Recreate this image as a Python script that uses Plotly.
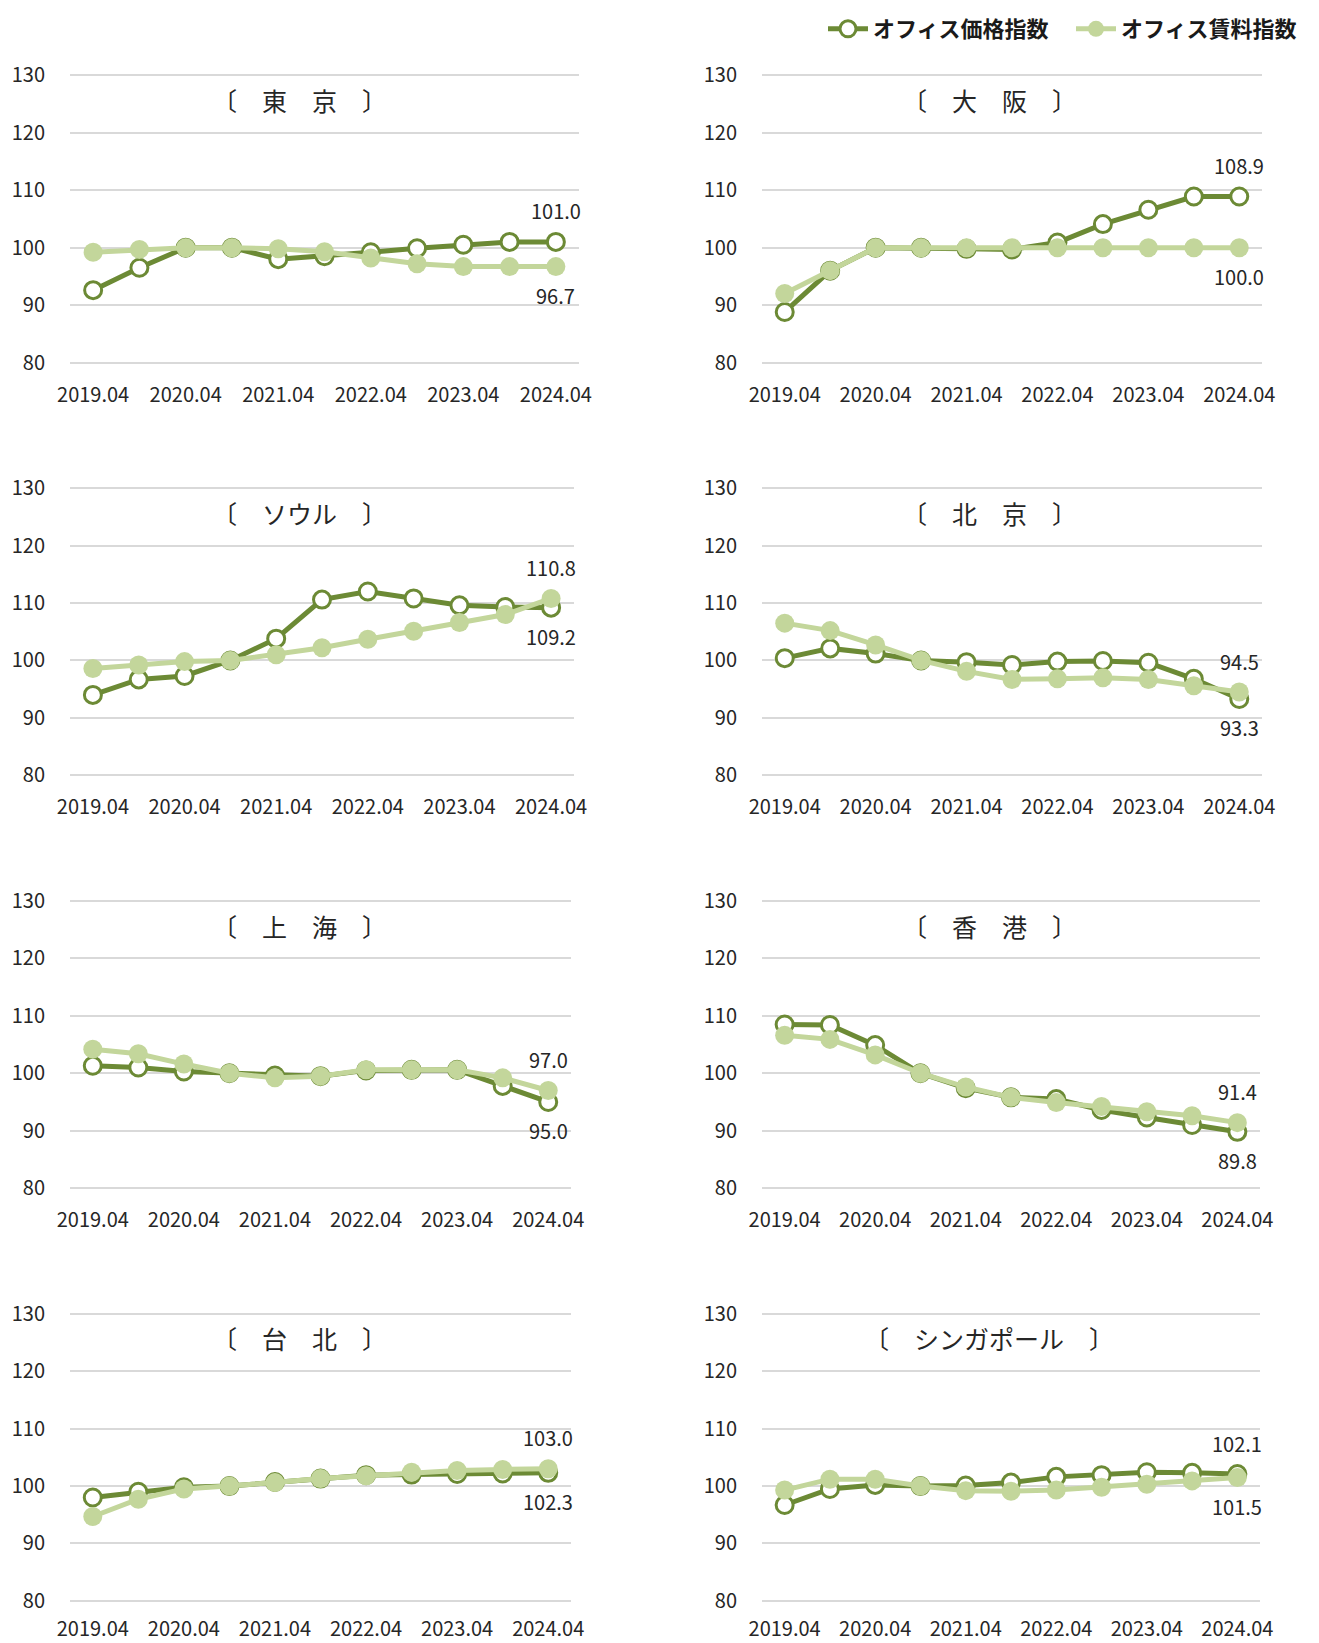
import plotly.graph_objects as go

# half-year periods, only April ones get a tick label
periods = ["2019.04", "2019.10", "2020.04", "2020.10", "2021.04", "2021.10",
           "2022.04", "2022.10", "2023.04", "2023.10", "2024.04"]
tick_periods = ["2019.04", "2020.04", "2021.04", "2022.04", "2023.04", "2024.04"]

cities = ["東　京", "大　阪", "ソウル", "北　京", "上　海", "香　港", "台　北", "シンガポール"]

# オフィス価格指数
price_tokyo = [92.6, 96.5, 100.0, 100.0, 98.0, 98.5, 99.2, 99.9, 100.5, 101.0, 101.0]
price_osaka = [88.8, 96.0, 100.0, 100.0, 99.8, 99.7, 100.9, 104.1, 106.6, 108.9, 108.9]
price_seoul = [94.0, 96.7, 97.3, 100.0, 103.8, 110.6, 112.0, 110.8, 109.6, 109.3, 109.2]
price_beijing = [100.4, 102.1, 101.2, 100.0, 99.7, 99.2, 99.8, 99.9, 99.6, 96.8, 93.3]
price_shanghai = [101.3, 101.0, 100.3, 100.0, 99.6, 99.5, 100.5, 100.6, 100.6, 97.8, 95.0]
price_hongkong = [108.5, 108.4, 104.9, 100.0, 97.4, 95.8, 95.5, 93.6, 92.3, 91.0, 89.8]
price_taipei = [98.0, 99.0, 99.8, 100.0, 100.7, 101.3, 101.9, 102.0, 102.1, 102.2, 102.3]
price_singapore = [96.7, 99.5, 100.2, 100.0, 100.1, 100.6, 101.6, 101.9, 102.4, 102.3, 102.1]

# オフィス賃料指数
rent_tokyo = [99.2, 99.7, 100.0, 100.0, 99.8, 99.3, 98.2, 97.2, 96.7, 96.7, 96.7]
rent_osaka = [92.0, 96.0, 100.0, 100.0, 100.0, 100.0, 100.0, 100.0, 100.0, 100.0, 100.0]
rent_seoul = [98.6, 99.2, 99.8, 100.0, 101.0, 102.2, 103.7, 105.1, 106.6, 108.0, 110.8]
rent_beijing = [106.5, 105.2, 102.7, 100.0, 98.1, 96.7, 96.8, 97.0, 96.7, 95.6, 94.5]
rent_shanghai = [104.2, 103.4, 101.6, 100.0, 99.2, 99.5, 100.6, 100.6, 100.6, 99.2, 97.0]
rent_hongkong = [106.6, 105.9, 103.2, 100.0, 97.6, 95.8, 94.9, 94.2, 93.3, 92.6, 91.4]
rent_taipei = [94.7, 97.7, 99.5, 100.0, 100.6, 101.3, 101.8, 102.4, 102.7, 102.9, 103.0]
rent_singapore = [99.3, 101.2, 101.2, 100.0, 99.2, 99.1, 99.3, 99.8, 100.3, 100.9, 101.5]

prices = [price_tokyo, price_osaka, price_seoul, price_beijing,
          price_shanghai, price_hongkong, price_taipei, price_singapore]
rents = [rent_tokyo, rent_osaka, rent_seoul, rent_beijing,
         rent_shanghai, rent_hongkong, rent_taipei, rent_singapore]

DARK = "#6C8A35"
LIGHT = "#C3D69B"
TXT = "#262626"
FONT = "Noto Sans CJK JP"

# page body has an 8px margin, so the figure is sized to end at the window edge
OFF = 8
W, H = 1319 - OFF, 1643 - OFF

# panel geometry in window pixels (left, right, top of the 130 line)
lefts = [70, 762]
rights = [[579, 1262], [574, 1262], [571, 1260], [571, 1260]]
tops = [75.4, 488.2, 901.0, 1313.8]
ph = 287.1
pad = 0.2 * ph / 50  # px for the 0.2 extra range on both ends
title_x = [299, 989]


def fx(px):
    return (px - OFF) / W


def fy(py):
    return 1 - (py - OFF) / H


fig = go.Figure()
layout = {}
annotations = []

for i, city in enumerate(cities):
    r, c = divmod(i, 2)
    sfx = "" if i == 0 else str(i + 1)
    xa, ya = "x" + sfx, "y" + sfx

    fig.add_trace(go.Scatter(
        x=periods, y=prices[i], xaxis=xa, yaxis=ya, mode="lines+markers",
        name="オフィス価格指数", legendgroup="p", showlegend=(i == 0),
        line=dict(color=DARK, width=5),
        marker=dict(symbol="circle", size=17, color="white",
                    line=dict(color=DARK, width=3)),
    ))
    fig.add_trace(go.Scatter(
        x=periods, y=rents[i], xaxis=xa, yaxis=ya, mode="lines+markers",
        name="オフィス賃料指数", legendgroup="r", showlegend=(i == 0),
        line=dict(color=LIGHT, width=5),
        marker=dict(symbol="circle", size=19, color=LIGHT),
    ))

    # bottom row sits on the window edge, pull its labels up a little
    standoff = 13 if r == len(tops) - 1 else 17
    layout["xaxis" + sfx] = dict(
        domain=[fx(lefts[c]), fx(rights[r][c])], anchor=ya, type="category",
        categoryorder="array", categoryarray=periods,
        range=[-0.5, len(periods) - 0.5],
        tickmode="array", tickvals=tick_periods, ticktext=tick_periods,
        showgrid=False, zeroline=False, showline=False, ticks="",
        ticklabelstandoff=standoff, automargin=False,
        tickfont=dict(family=FONT, size=20, color=TXT),
    )
    layout["yaxis" + sfx] = dict(
        domain=[fy(tops[r] + ph + pad), fy(tops[r] - pad)], anchor=xa,
        range=[79.8, 130.2],
        tickvals=[80, 90, 100, 110, 120, 130],
        showgrid=True, gridcolor="#D9D9D9", gridwidth=1.5,
        zeroline=False, showline=False, ticks="",
        ticklabelstandoff=24, automargin=False,
        tickfont=dict(family=FONT, size=20, color=TXT),
    )

    # panel title
    annotations.append(dict(
        x=fx(title_x[c]), y=fy(tops[r] + 24.5), xref="paper", yref="paper",
        text=f"〔　{city}　〕", showarrow=False, xanchor="center", yanchor="middle",
        font=dict(family=FONT, size=25, color=TXT),
    ))

    # end-value labels: higher series above, lower below
    p_last, r_last = prices[i][-1], rents[i][-1]
    hi, lo = (p_last, r_last) if p_last >= r_last else (r_last, p_last)
    n_last = len(periods) - 1
    annotations.append(dict(
        x=n_last, y=hi, xref=xa, yref=ya, text=f"{hi:.1f}",
        showarrow=False, yshift=31, xanchor="center", yanchor="middle",
        font=dict(family=FONT, size=20, color=TXT),
    ))
    annotations.append(dict(
        x=n_last, y=lo, xref=xa, yref=ya, text=f"{lo:.1f}",
        showarrow=False, yshift=-29, xanchor="center", yanchor="middle",
        font=dict(family=FONT, size=20, color=TXT),
    ))

fig.update_layout(
    **layout,
    annotations=annotations,
    width=W, height=H,
    margin=dict(l=0, r=0, t=0, b=0),
    paper_bgcolor="white", plot_bgcolor="white",
    font=dict(family=FONT, color=TXT),
    showlegend=True,
    legend=dict(
        orientation="h", x=1, xanchor="right", y=1, yanchor="top",
        font=dict(family=FONT, size=22, color="#1a1a1a", weight="bold"),
        itemwidth=40, entrywidth=193, bgcolor="rgba(0,0,0,0)", traceorder="normal",
    ),
)

fig.write_html("out.html")
